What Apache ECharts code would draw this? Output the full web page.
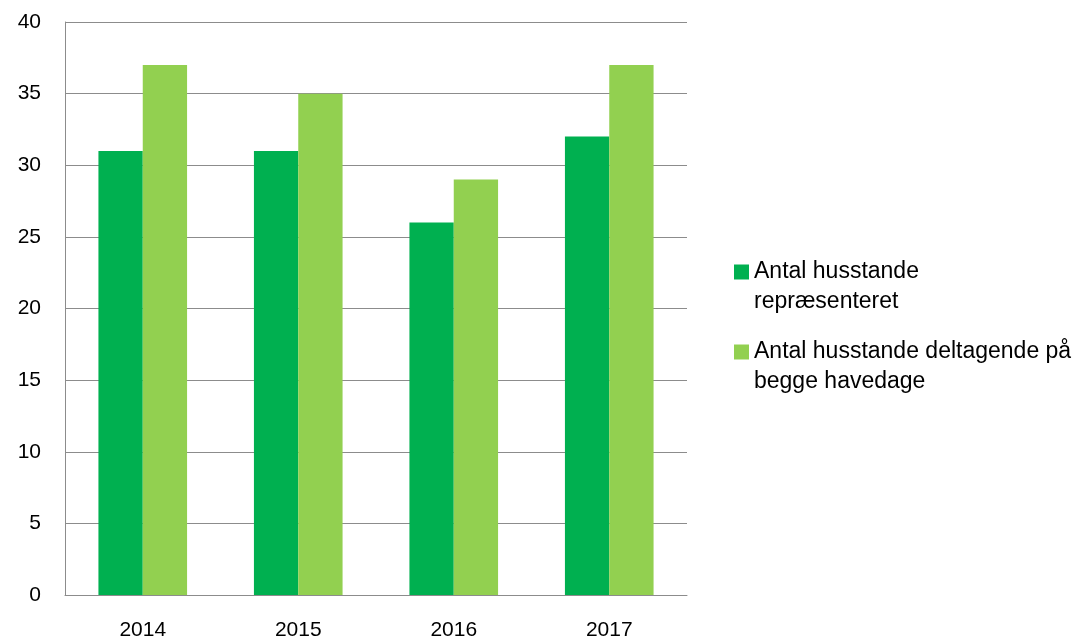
<!DOCTYPE html>
<html>
<head>
<meta charset="utf-8">
<script src="https://cdn.jsdelivr.net/npm/echarts@6/dist/echarts.min.js"></script>
<style>
  html, body { margin: 0; padding: 0; background: #fff; }
  #chart { width: 1090px; height: 641px; }
</style>
</head>
<body>
<div id="chart"></div>
<script>
// data
var years = ['2014', '2015', '2016', '2017'];
var repraesenteret = [31, 31, 26, 32];
var beggeHavedage = [37, 35, 29, 37];
var seriesNames = ['Antal husstande\nrepræsenteret', 'Antal husstande deltagende på\nbegge havedage'];

var font = 'Liberation Sans, Arial, sans-serif';
var myChart = echarts.init(document.getElementById('chart'));

var option = {
  backgroundColor: '#fff',
  animation: false,
  grid: {
    left: 65,
    right: 403,
    top: 22,
    bottom: 46
  },
  legend: {
    orient: 'vertical',
    left: 729,
    top: 222,
    itemWidth: 15,
    itemHeight: 15,
    itemGap: -10,
    icon: 'rect',
    data: seriesNames,
    // leere erste Zeile, damit das Symbol auf Höhe der ersten Textzeile steht
    formatter: function (name) {
      return ' \n' + name;
    },
    textStyle: {
      fontFamily: font,
      fontSize: 23,
      color: '#000',
      lineHeight: 30
    }
  },
  xAxis: {
    type: 'category',
    data: years,
    axisTick: { show: false },
    axisLine: { lineStyle: { color: '#8c8c8c', width: 1 } },
    axisLabel: {
      margin: 25,
      fontFamily: font,
      fontSize: 21,
      color: '#000'
    }
  },
  yAxis: {
    type: 'value',
    min: 0,
    max: 40,
    interval: 5,
    axisLine: { show: true, lineStyle: { color: '#8c8c8c', width: 1 } },
    axisTick: { show: false },
    axisLabel: {
      margin: 24,
      fontFamily: font,
      fontSize: 21,
      color: '#000'
    },
    splitLine: { lineStyle: { color: '#8c8c8c', width: 1 } }
  },
  series: [
    {
      name: seriesNames[0],
      type: 'bar',
      barGap: '0%',
      barCategoryGap: '43%',
      itemStyle: { color: '#00b050' },
      data: repraesenteret
    },
    {
      name: seriesNames[1],
      type: 'bar',
      itemStyle: { color: '#92d050' },
      data: beggeHavedage
    }
  ]
};

myChart.setOption(option);
</script>
</body>
</html>
